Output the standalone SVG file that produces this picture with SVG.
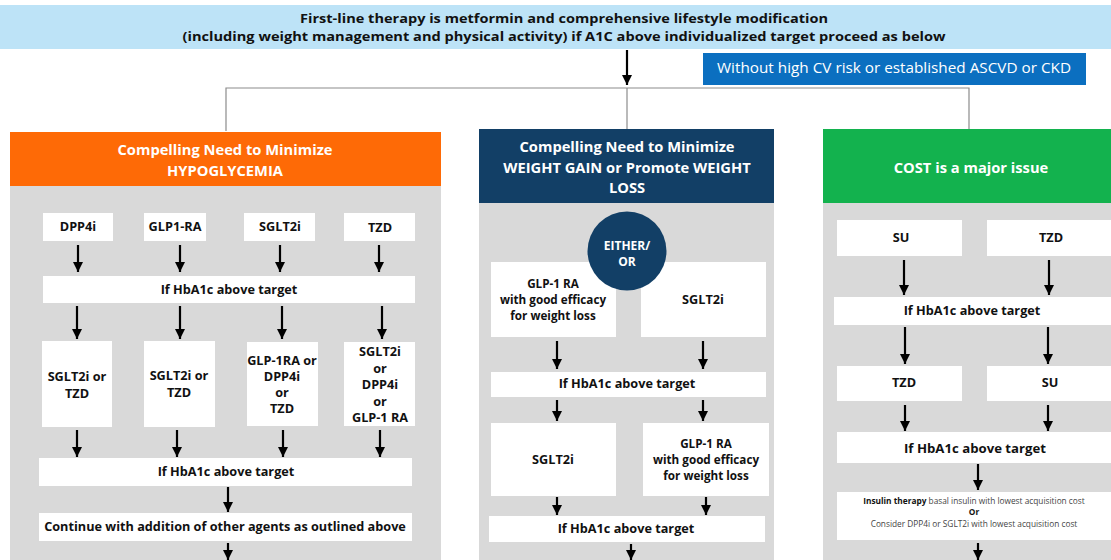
<svg xmlns="http://www.w3.org/2000/svg" width="1111" height="560" viewBox="0 0 1111 560">
<defs>
<marker id="ah" viewBox="0 0 10 10" refX="10" refY="5" markerWidth="10" markerHeight="10" markerUnits="userSpaceOnUse" orient="auto">
<path d="M0,0 L10,5 L0,10 z" fill="#000"/>
</marker>
<style>
text{font-family:"Open Sans","Liberation Sans",sans-serif;text-anchor:middle;}
.b{font-weight:700;font-size:12.7px;fill:#111;}
.m{font-weight:700;font-size:11.7px;fill:#111;}
.h{font-weight:700;font-size:14.7px;fill:#fff;}
.box{fill:#fff;}
.body{fill:#d9d9d9;}
.arr{stroke:#000;stroke-width:2.2;fill:none;marker-end:url(#ah);}
.thin{stroke:#8c8c8c;stroke-width:1.2;fill:none;}
.s{font-size:8.3px;fill:#444;}
</style>
</defs>
<rect width="1111" height="560" fill="#fff"/>

<g id="banner">
<rect x="0" y="5" width="1111" height="44" fill="#bde3f7"/>
<text x="564" y="23" class="b" font-size="14" textLength="528" lengthAdjust="spacingAndGlyphs">First-line therapy is metformin and comprehensive lifestyle modification</text>
<text x="564" y="41" class="b" font-size="14" textLength="763" lengthAdjust="spacingAndGlyphs">(including weight management and physical activity) if A1C above individualized target proceed as below</text>
</g>

<g id="risk-label">
<rect x="703" y="53" width="383" height="32" fill="#0b6fc0"/>
<text x="894" y="73" style="font-size:14.5px;fill:#fff;font-weight:400" textLength="354" lengthAdjust="spacingAndGlyphs">Without high CV risk or established ASCVD or CKD</text>
</g>

<g id="panel-left">
<rect class="body" x="10" y="186" width="431" height="374"/>
<rect x="10" y="132" width="431" height="54" fill="#fe6a06"/>
<text x="225" y="155" class="h"><tspan x="225">Compelling Need to Minimize</tspan><tspan x="225" dy="21">HYPOGLYCEMIA</tspan></text>
</g>
<g id="l-dpp4i"><rect class="box" x="43" y="213" width="70" height="28"/><text class="b" x="78" y="231">DPP4i</text></g>
<g id="l-glp1ra"><rect class="box" x="144" y="213" width="62" height="28"/><text class="b" x="175" y="231">GLP1-RA</text></g>
<g id="l-sglt2i"><rect class="box" x="244" y="213" width="71" height="28"/><text class="b" x="280" y="231">SGLT2i</text></g>
<g id="l-tzd"><rect class="box" x="344" y="213" width="71" height="28"/><text class="b" x="380" y="232">TZD</text></g>
<g id="l-target1"><rect class="box" x="43" y="276" width="372" height="27"/><text class="b" x="229" y="294">If HbA1c above target</text></g>
<g id="l-opt1"><rect class="box" x="42" y="341" width="70" height="86"/><text class="b" x="77" y="381"><tspan x="77">SGLT2i or</tspan><tspan x="77" dy="17">TZD</tspan></text></g>
<g id="l-opt2"><rect class="box" x="144" y="341" width="71" height="86"/><text class="b" x="179" y="380"><tspan x="179">SGLT2i or</tspan><tspan x="179" dy="17">TZD</tspan></text></g>
<g id="l-opt3"><rect class="box" x="247" y="342" width="71" height="84"/><text class="b" x="282" y="365"><tspan x="282">GLP-1RA or</tspan><tspan x="282" dy="16">DPP4i</tspan><tspan x="282" dy="16">or</tspan><tspan x="282" dy="16">TZD</tspan></text></g>
<g id="l-opt4"><rect class="box" x="344" y="342" width="71" height="84"/><text class="b" x="380" y="356"><tspan x="380">SGLT2i</tspan><tspan x="380" dy="16.5">or</tspan><tspan x="380" dy="16.5">DPP4i</tspan><tspan x="380" dy="16.5">or</tspan><tspan x="380" dy="16.5">GLP-1 RA</tspan></text></g>
<g id="l-target2"><rect class="box" x="39" y="458" width="373" height="28"/><text class="b" x="226" y="476">If HbA1c above target</text></g>
<g id="l-continue"><rect class="box" x="39" y="513" width="373" height="28"/><text class="b" x="225" y="531">Continue with addition of other agents as outlined above</text></g>

<g id="panel-mid">
<rect class="body" x="479" y="203" width="295" height="357"/>
<rect x="479" y="129" width="295" height="74" fill="#123f66"/>
<text x="627" y="152" class="h"><tspan x="627">Compelling Need to Minimize</tspan><tspan x="627" dy="21">WEIGHT GAIN or Promote WEIGHT</tspan><tspan x="627" dy="20">LOSS</tspan></text>
</g>
<g id="m-glp1"><rect class="box" x="491" y="262" width="125" height="75"/><text class="m" x="553" y="288"><tspan x="553">GLP-1 RA</tspan><tspan x="553" dy="16">with good efficacy</tspan><tspan x="553" dy="16">for weight loss</tspan></text></g>
<g id="m-sglt2i"><rect class="box" x="641" y="262" width="125" height="75"/><text class="b" x="703" y="304">SGLT2i</text></g>
<g id="m-either"><circle cx="627" cy="251" r="39.5" fill="#123f66"/><text class="h" style="font-size:12px" x="627" y="250"><tspan x="627">EITHER/</tspan><tspan x="627" dy="15.5">OR</tspan></text></g>
<g id="m-target1"><rect class="box" x="491" y="372" width="275" height="25"/><text class="b" x="627" y="388">If HbA1c above target</text></g>
<g id="m-sglt2i-2"><rect class="box" x="491" y="423" width="125" height="73"/><text class="b" x="553" y="464">SGLT2i</text></g>
<g id="m-glp1-2"><rect class="box" x="643" y="423" width="126" height="73"/><text class="m" x="706" y="447.5"><tspan x="706">GLP-1 RA</tspan><tspan x="706" dy="16">with good efficacy</tspan><tspan x="706" dy="16">for weight loss</tspan></text></g>
<g id="m-target2"><rect class="box" x="489" y="516" width="276" height="26"/><text class="b" x="626" y="533">If HbA1c above target</text></g>

<g id="panel-right">
<rect class="body" x="823" y="203" width="288" height="357"/>
<rect x="823" y="129" width="288" height="74" fill="#13b24e"/>
<text x="971" y="173" class="h">COST is a major issue</text>
</g>
<g id="r-su"><rect class="box" x="837" y="220" width="125" height="36"/><text class="b" x="901" y="242">SU</text></g>
<g id="r-tzd"><rect class="box" x="987" y="220" width="124" height="36"/><text class="b" x="1051" y="242">TZD</text></g>
<g id="r-target1"><rect class="box" x="834" y="297" width="277" height="28"/><text class="b" x="972" y="315">If HbA1c above target</text></g>
<g id="r-tzd2"><rect class="box" x="837" y="366" width="125" height="35"/><text class="b" x="904" y="387">TZD</text></g>
<g id="r-su2"><rect class="box" x="987" y="366" width="124" height="35"/><text class="b" x="1050" y="387">SU</text></g>
<g id="r-target2"><rect class="box" x="837" y="432" width="274" height="31"/><text class="b" style="font-size:13.2px" x="975" y="453">If HbA1c above target</text></g>
<g id="r-insulin"><rect class="box" x="837" y="492" width="274" height="48"/>
<text x="974" y="503.5" class="s"><tspan x="974"><tspan font-weight="700" fill="#111">Insulin therapy</tspan> basal insulin with lowest acquisition cost</tspan><tspan x="974" dy="11.5" font-weight="700" fill="#111">Or</tspan><tspan x="974" dy="11.5">Consider DPP4i or SGLT2i with lowest acquisition cost</tspan></text>
</g>

<g id="connectors">
<line class="arr" x1="627" y1="50" x2="627" y2="85"/>
<polyline class="thin" points="226,131 226,88 969,88 969,129"/>
<line class="thin" x1="627" y1="88" x2="627" y2="129"/>
<line class="arr" x1="78" y1="245" x2="78" y2="272"/>
<line class="arr" x1="180" y1="245" x2="180" y2="272"/>
<line class="arr" x1="280" y1="245" x2="280" y2="272"/>
<line class="arr" x1="379" y1="245" x2="379" y2="272"/>
<line class="arr" x1="77" y1="306" x2="77" y2="339"/>
<line class="arr" x1="180" y1="306" x2="180" y2="339"/>
<line class="arr" x1="282" y1="306" x2="282" y2="339"/>
<line class="arr" x1="382" y1="306" x2="382" y2="339"/>
<line class="arr" x1="77" y1="430" x2="77" y2="457"/>
<line class="arr" x1="177" y1="430" x2="177" y2="457"/>
<line class="arr" x1="283" y1="430" x2="283" y2="457"/>
<line class="arr" x1="380" y1="430" x2="380" y2="457"/>
<line class="arr" x1="228" y1="487" x2="228" y2="512"/>
<line class="arr" x1="228" y1="543" x2="228" y2="560"/>
<line class="arr" x1="557" y1="341" x2="557" y2="369"/>
<line class="arr" x1="703" y1="341" x2="703" y2="369"/>
<line class="arr" x1="557" y1="400" x2="557" y2="421"/>
<line class="arr" x1="703" y1="400" x2="703" y2="421"/>
<line class="arr" x1="557" y1="497" x2="557" y2="515"/>
<line class="arr" x1="706" y1="497" x2="706" y2="515"/>
<line class="arr" x1="631" y1="544" x2="631" y2="560"/>
<line class="arr" x1="904" y1="260" x2="904" y2="295"/>
<line class="arr" x1="1049" y1="260" x2="1049" y2="295"/>
<line class="arr" x1="905" y1="327" x2="905" y2="364"/>
<line class="arr" x1="1048" y1="327" x2="1048" y2="364"/>
<line class="arr" x1="905" y1="405" x2="905" y2="431"/>
<line class="arr" x1="1048" y1="405" x2="1048" y2="431"/>
<line class="arr" x1="978" y1="464" x2="978" y2="490"/>
<line class="arr" x1="978" y1="543" x2="978" y2="560"/>
</g>
</svg>
